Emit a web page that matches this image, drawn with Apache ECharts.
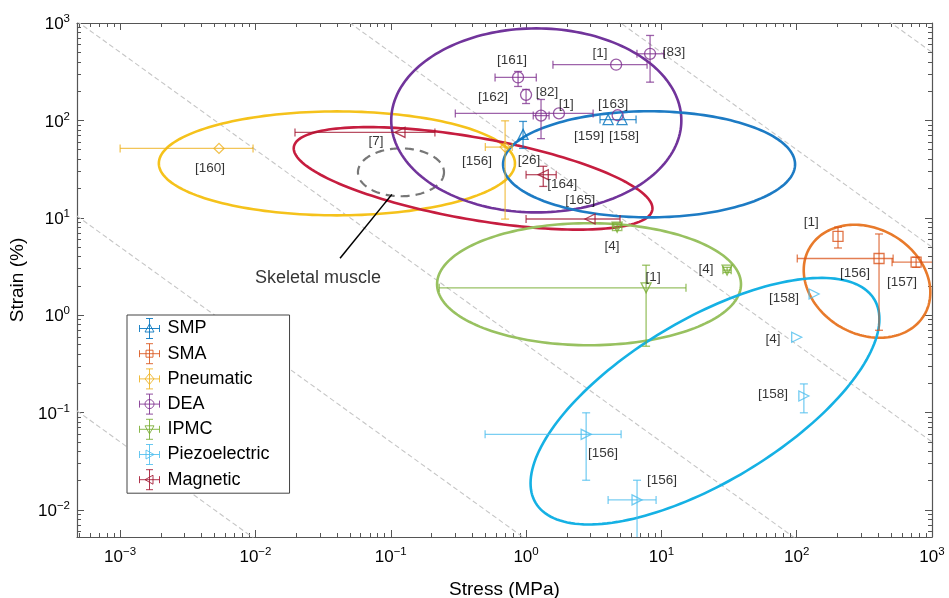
<!DOCTYPE html>
<html><head><meta charset="utf-8">
<script src="https://cdn.jsdelivr.net/npm/echarts@6/dist/echarts.min.js"></script>
<style>html,body{margin:0;padding:0;background:#fff}#c{width:949px;height:598px}</style>
</head><body><div id="c"></div>
<script>
// ---------- data ----------
const categories = ['SMP', 'SMA', 'Pneumatic', 'DEA', 'IPMC', 'Piezoelectric', 'Magnetic'];
// point: [stress MPa, strain %, stressLow, stressHigh, strainLow, strainHigh]
const smpPts = [
  [0.95, 71.8, null, null, 51.6, 97.6],
  [4.04, 102, null, null, null, null],
  [5.12, 102, 3.52, 6.5, null, null]
];
const smaPts = [
  [202, 6.46, null, null, 4.9, 8.0],
  [406, 3.82, 101, 516, 0.70, 6.82],
  [763, 3.5, 507, 1300, 3.1, 3.93]
];
const pneumaticPts = [
  [0.00538, 51.6, 0.001, 0.0096, null, null],
  [0.70, 53.2, 0.50, 0.79, 9.7, 99]
];
const deaPts = [
  [8.25, 483, 6.6, 10.4, 247, 745],
  [4.63, 373, 1.58, 7.84, null, null],
  [0.873, 276, 0.59, 1.19, 223, 318],
  [1.0, 183, null, null, 149, 208],
  [1.29, 112, 1.13, 1.48, 65, 164],
  [1.75, 118, 0.30, 3.13, null, null],
  [4.75, 113, null, null, null, null]
];
const ipmcPts = [
  [4.71, 8.0, 4.35, 5.1, 7.4, 8.6],
  [7.71, 1.91, 0.228, 15.2, 0.48, 3.26],
  [30.6, 2.9, 28.5, 32.8, 2.75, 3.1]
];
const piezoPts = [
  [134.5, 1.65, null, null, null, null],
  [100, 0.594, null, null, null, null],
  [113, 0.148, null, null, 0.0995, 0.197],
  [2.78, 0.0598, 0.498, 5.04, 0.0202, 0.0995],
  [6.61, 0.0127, 4.04, 9.14, 0.003, 0.0202]
];
const magneticPts = [
  [0.117, 75.3, 0.0196, 0.212, null, null],
  [1.34, 27.7, 1.0, 1.67, 21, 33.8],
  [2.97, 9.72, 1.0, 4.95, null, null]
];
const seriesPoints = [smpPts, smaPts, pneumaticPts, deaPts, ipmcPts, piezoPts, magneticPts];

// reference labels: [text, stress, strain]
const refLabels = [
  ['[160]', 0.00462, 32.2], ['[7]', 0.0778, 60.9], ['[161]', 0.788, 412], ['[1]', 3.52, 486],
  ['[83]', 12.4, 498], ['[162]', 0.57, 172], ['[82]', 1.43, 194], ['[1]', 1.98, 146],
  ['[163]', 4.4, 146], ['[159]', 2.92, 68.5], ['[158]', 5.3, 68.5], ['[156]', 0.434, 38],
  ['[26]', 1.05, 38.9], ['[164]', 1.85, 22], ['[165]', 2.51, 15.1], ['[4]', 4.32, 5.1],
  ['[1]', 8.69, 2.45], ['[4]', 21.4, 2.96], ['[1]', 128, 9.0], ['[156]', 270, 2.7],
  ['[157]', 601, 2.18], ['[158]', 80.7, 1.49], ['[4]', 66.9, 0.567], ['[158]', 66.9, 0.155],
  ['[156]', 3.71, 0.0384], ['[156]', 10.1, 0.0203]
];
// ellipses: [group, centre stress, centre strain, semi-axis a, semi-axis b (in stress decades), tilt deg]
const ellipses = [
  ['Pneumatic', 0.040, 36.2, 1.316, 0.384, 0],
  ['Magnetic', 0.406, 25.4, 1.345, 0.303, 10],
  ['Skeletal muscle', 0.119, 29.3, 0.318, 0.177, 0],
  ['DEA', 1.19, 100, 1.072, 0.68, 0],
  ['SMP', 8.11, 35.4, 1.079, 0.392, 0],
  ['IPMC', 2.92, 2.08, 1.123, 0.451, 0],
  ['SMA', 331, 2.23, 0.491, 0.39, 30],
  ['Piezoelectric', 21.0, 0.131, 1.46, 0.6, -31]
];
// constant work-density guide lines: stress * strain
const guideProducts = [5e-5, 5e-3, 0.5, 50, 5e3, 5e5];
const muscleText = ['Skeletal muscle', 0.029, 2.4];
const muscleArrow = [[0.0422, 3.84], [0.102, 17.4]];

// ---------- styles ----------
const FONT = '"Liberation Sans", Arial, Helvetica, sans-serif';
const markColors = ['#0072BD', '#D95319', '#EDB120', '#7E2F8E', '#77AC30', '#4DBEEE', '#A2142F'];
const ellColors = {
  'Pneumatic': '#F5C21B', 'Magnetic': '#C61D3F', 'Skeletal muscle': '#777777', 'DEA': '#71349B',
  'SMP': '#1D7BC4', 'IPMC': '#98C160', 'SMA': '#E87A2B', 'Piezoelectric': '#15B1E4'
};
const symbols = ['triangle', 'rect', 'diamond', 'circle', 'triangle', 'triangle', 'triangle'];
const symRot = [0, 0, 0, 0, 180, -90, 90];
const markerIcons = [
  'M10 5.5L14.5 13.5H5.5Z', 'M6.5 6.5H13.5V13.5H6.5Z', 'M10 4.5L14.5 10L10 15.5L5.5 10Z',
  'M14.5 10A4.5 4.5 0 1 1 5.5 10A4.5 4.5 0 1 1 14.5 10Z', 'M10 14.5L14.5 6.5H5.5Z',
  'M14.5 10L6.5 5.5V14.5Z', 'M5.5 10L13.5 5.5V14.5Z'
];
const crossIcon = 'M0 10H20M0 6.5V13.5M20 6.5V13.5M10 0V20M6.5 0H13.5M6.5 20H13.5';

const chart = echarts.init(document.getElementById('c'), null, {renderer: 'canvas'});

function expFmt(v) {
  const e = Math.log10(v);
  const r = Math.round(e);
  if (Math.abs(e - r) > 1e-6) return '';
  return '{b|10}{s|' + (r < 0 ? '\u2212' + (-r) : r) + '}';
}
const richLab = {
  b: {fontSize: 17, fontFamily: FONT, color: '#000', lineHeight: 20, verticalAlign: 'bottom'},
  s: {fontSize: 11.5, fontFamily: FONT, color: '#000', lineHeight: 20, verticalAlign: 'top', padding: [0, 0, 8, 0]}
};
const axisCol = '#555';
function mkAxis(pos, isX, showLabels, extra) {
  return Object.assign({
    type: 'log', logBase: 10, position: pos,
    min: isX ? 4.8e-4 : 0.00528, max: 1000,
    axisLine: {show: true, onZero: false, lineStyle: {color: axisCol, width: 1.2}},
    axisTick: {show: true, inside: true, length: 7, lineStyle: {color: axisCol, width: 1}},
    minorTick: {show: true, splitNumber: 9, length: 4, lineStyle: {color: axisCol, width: 1}},
    splitLine: {show: false}, minorSplitLine: {show: false},
    axisLabel: showLabels ? {show: true, formatter: expFmt, rich: richLab, margin: isX ? 9 : 7, interval: 0, showMinLabel: true, showMaxLabel: true} : {show: false}
  }, extra || {});
}

// error-bar custom series
const errData = [];
seriesPoints.forEach((pts, ci) => pts.forEach(p => errData.push([p[0], p[1],
  p[2] == null ? 0 : p[2], p[3] == null ? 0 : p[3], p[4] == null ? 0 : p[4], p[5] == null ? 0 : p[5], ci])));

function renderErr(params, api) {
  const x = api.value(0), y = api.value(1);
  const xl = api.value(2), xh = api.value(3), yl = api.value(4), yh = api.value(5);
  const ci = api.value(6);
  const st = {stroke: markColors[ci], lineWidth: 1.3, opacity: 0.75};
  const cap = 4;
  const ch = [];
  const seg = (a, b) => ch.push({type: 'line', shape: {x1: a[0], y1: a[1], x2: b[0], y2: b[1]}, style: st});
  if (xl > 0 && xh > 0) {
    const p1 = api.coord([xl, y]), p2 = api.coord([xh, y]);
    seg(p1, p2);
    seg([p1[0], p1[1] - cap], [p1[0], p1[1] + cap]);
    seg([p2[0], p2[1] - cap], [p2[0], p2[1] + cap]);
  }
  if (yl > 0 && yh > 0) {
    const p1 = api.coord([x, yl]), p2 = api.coord([x, yh]);
    seg(p1, p2);
    seg([p1[0] - cap, p1[1]], [p1[0] + cap, p1[1]]);
    seg([p2[0] - cap, p2[1]], [p2[0] + cap, p2[1]]);
  }
  return {type: 'group', children: ch};
}

function renderEllipse(params, api) {
  const name = ellipses[params.dataIndex][0];
  const c = api.coord([api.value(0), api.value(1)]);
  const unit = api.coord([10, 1])[0] - api.coord([1, 1])[0];
  const a = api.value(2) * unit, b = api.value(3) * unit, th = api.value(4) * Math.PI / 180;
  const pts = [];
  const N = 180;
  for (let k = 0; k < N; k++) {
    const t = k / N * 2 * Math.PI;
    pts.push([c[0] + a * Math.cos(t) * Math.cos(th) - b * Math.sin(t) * Math.sin(th),
              c[1] + a * Math.cos(t) * Math.sin(th) + b * Math.sin(t) * Math.cos(th)]);
  }
  const dashed = name === 'Skeletal muscle';
  return {type: 'polygon', shape: {points: pts},
    style: {fill: 'none', stroke: ellColors[name], lineWidth: dashed ? 2.2 : 2.6, lineDash: dashed ? [9, 6] : null}};
}

const series = [];
// guide lines
guideProducts.forEach(P => series.push({
  type: 'line', silent: true, symbol: 'none', clip: true, z: 1, xAxisIndex: 0, yAxisIndex: 0,
  data: [[1e-5, P / 1e-5], [1e5, P / 1e5]],
  lineStyle: {color: '#c6c6c6', width: 1.1, type: [5, 3]}
}));
// ellipses
series.push({type: 'custom', silent: true, clip: true, z: 3, renderItem: renderEllipse,
  data: ellipses.map(e => [e[1], e[2], e[3], e[4], e[5]]), encode: {x: 0, y: 1}});
// error bars
series.push({type: 'custom', silent: true, clip: true, z: 4, renderItem: renderErr, data: errData, encode: {x: 0, y: 1}});
// markers
categories.forEach((name, i) => series.push({
  type: 'scatter', name: name, z: 5, silent: true,
  data: seriesPoints[i].map(p => [p[0], p[1]]),
  symbol: symbols[i], symbolRotate: symRot[i], symbolSize: i === 3 ? 11 : 10,
  itemStyle: {color: 'rgba(255,255,255,0)', borderColor: markColors[i], borderWidth: 1.3, opacity: 0.8}
}));
// reference labels
series.push({
  type: 'scatter', name: 'refs', silent: true, z: 10, symbolSize: 0,
  data: refLabels.map(r => ({name: r[0], value: [r[1], r[2]]})),
  label: {show: true, position: 'inside', formatter: '{b}', color: '#000', fontSize: 13.5, fontFamily: FONT}
});
// skeletal muscle annotation + arrow
series.push({
  type: 'scatter', name: 'muscle', silent: true, z: 10, symbolSize: 0,
  data: [{name: muscleText[0], value: [muscleText[1], muscleText[2]]}],
  label: {show: true, position: 'inside', formatter: '{b}', color: '#000', fontSize: 18, fontFamily: FONT},
  markLine: {silent: true, symbol: ['none', 'arrow'], symbolSize: [1, 11],
    lineStyle: {color: '#000', width: 1.5, type: 'solid'}, label: {show: false},
    data: [[{coord: muscleArrow[0]}, {coord: muscleArrow[1]}]]}
});

const option = {
  backgroundColor: '#fff',
  animation: false,
  grid: {left: 77, right: 17, top: 23, bottom: 61, containLabel: false, outerBoundsMode: 'none'},
  xAxis: [
    mkAxis('bottom', true, true, {name: 'Stress (MPa)', nameLocation: 'middle', nameGap: 43,
      nameTextStyle: {fontSize: 19, fontFamily: FONT, color: '#000'}}),
    mkAxis('top', true, false)
  ],
  yAxis: [
    mkAxis('left', false, true, {name: 'Strain (%)', nameLocation: 'middle', nameGap: 46,
      nameTextStyle: {fontSize: 19, fontFamily: FONT, color: '#000'}}),
    mkAxis('right', false, false)
  ],
  legend: {
    orient: 'vertical', left: 127, top: 315, selectedMode: false,
    backgroundColor: '#fff', borderColor: '#444', borderWidth: 1, borderRadius: 0,
    padding: [3, 20, 3, 12], itemGap: 4.2, itemWidth: 26, itemHeight: 20,
    textStyle: {fontSize: 18, fontFamily: FONT, color: '#000'},
    data: categories.map((c, i) => ({name: c, icon: 'path://' + crossIcon + markerIcons[i],
      itemStyle: {color: 'rgba(0,0,0,0)', borderColor: markColors[i], borderWidth: 1, opacity: 0.85}}))
  },
  series: series
};
chart.setOption(option);
</script>
</body></html>
